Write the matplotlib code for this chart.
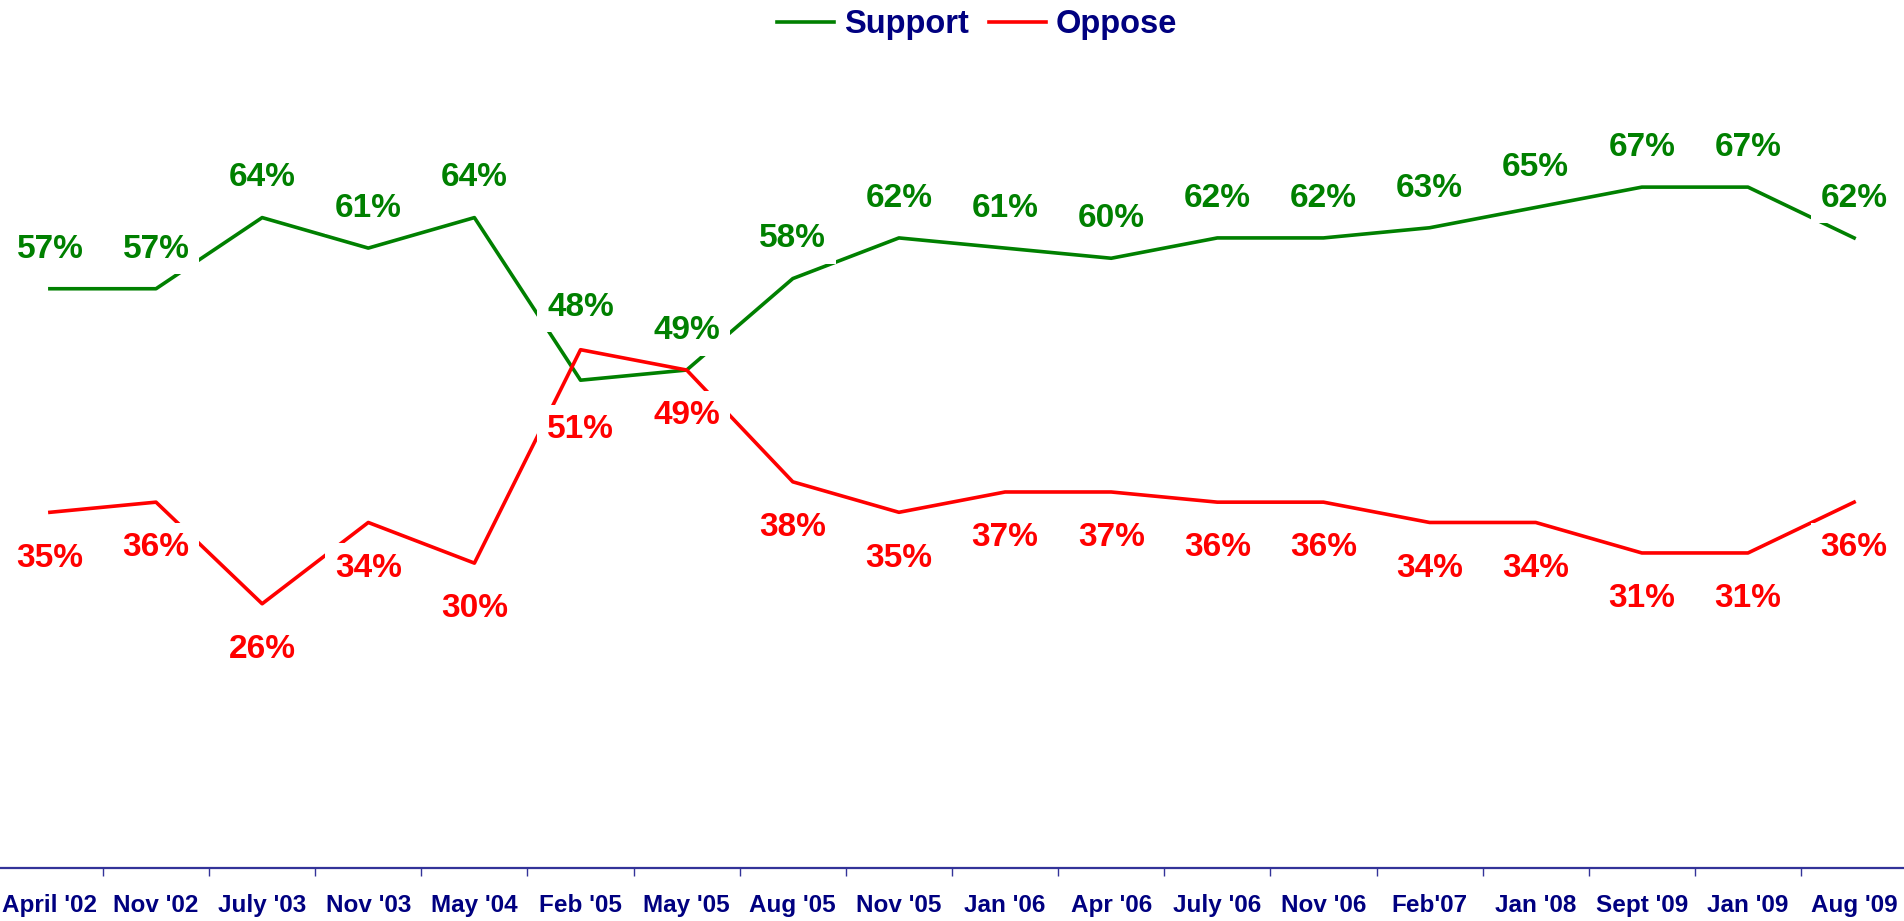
import matplotlib.pyplot as plt
import numpy as np

plt.rcParams['font.family'] = ['Liberation Sans', 'DejaVu Sans']
plt.rcParams['font.weight'] = 'bold'

# ---------- data ----------
periods = ["April '02", "Nov '02", "July '03", "Nov '03", "May '04", "Feb '05",
           "May '05", "Aug '05", "Nov '05", "Jan '06", "Apr '06", "July '06",
           "Nov '06", "Feb'07", "Jan '08", "Sept '09", "Jan '09", "Aug '09"]
support = [57, 57, 64, 61, 64, 48, 49, 58, 62, 61, 60, 62, 62, 63, 65, 67, 67, 62]
oppose = [35, 36, 26, 34, 30, 51, 49, 38, 35, 37, 37, 36, 36, 34, 34, 31, 31, 36]

GREEN = "#008000"
RED = "#FF0000"
NAVY = "#000080"
AXIS = "#333399"

fig = plt.figure(figsize=(19.04, 9.21), dpi=100)
ax = fig.add_axes([0.0, 53 / 921, 1.0, 813 / 921])

x = np.arange(len(periods))
l1, = ax.plot(x, support, color=GREEN, lw=2.6, zorder=2, label="Support")
l2, = ax.plot(x, oppose, color=RED, lw=2.6, zorder=2, label="Oppose")

# value labels (white boxes cut the lines, like the original)
box = dict(facecolor="white", edgecolor="none", pad=7)
for i, (s, o) in enumerate(zip(support, oppose)):
    s_off = 7.2 if i == 5 else 3.9
    o_off = 7.9 if i == 5 else 4.5
    ax.text(i, s + s_off, f"{s}%", color=GREEN, fontsize=24, fontweight="bold",
            ha="center", va="center", bbox=box, zorder=3)
    ax.text(i, o - o_off, f"{o}%", color=RED, fontsize=24, fontweight="bold",
            ha="center", va="center", bbox=box, zorder=3)

ax.set_xlim(-0.47, 17.47)
ax.set_ylim(0, 80)

for side in ["left", "right", "top"]:
    ax.spines[side].set_visible(False)
ax.spines["bottom"].set_color(AXIS)
ax.spines["bottom"].set_linewidth(1.6)
ax.set_yticks([])

ax.set_xticks(x)
ax.set_xticklabels(periods, fontsize=17.5, fontweight="bold", color=NAVY)
ax.tick_params(axis="x", which="major", length=0, pad=19)
ax.set_xticks(np.arange(0.5, len(periods) - 1, 1), minor=True)
ax.tick_params(axis="x", which="minor", length=6, width=1, color=AXIS,
               direction="out")

fig.legend(handles=[l1, l2], loc="center", bbox_to_anchor=(977 / 1904, 1 - 25 / 921),
           ncol=2, frameon=False, handlelength=1.75, handletextpad=0.3,
           columnspacing=0.6, prop={"size": 23.5, "weight": "bold"},
           labelcolor=NAVY)

fig.savefig("out.png", dpi=100)
